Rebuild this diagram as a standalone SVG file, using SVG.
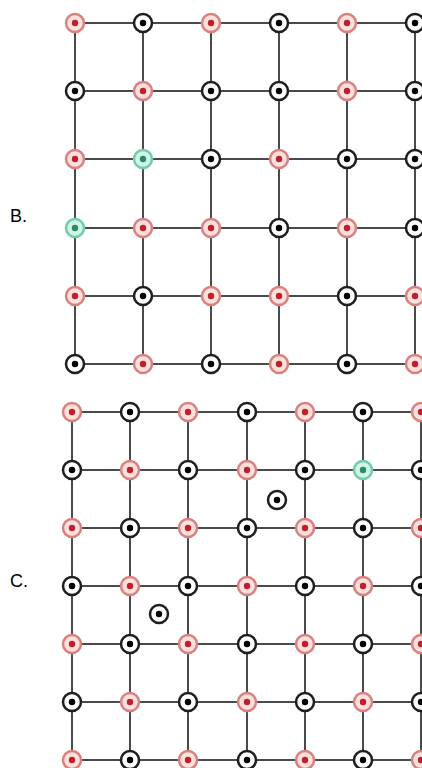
<svg xmlns="http://www.w3.org/2000/svg" width="422" height="768" viewBox="0 0 422 768">
<style>
.ln{stroke:#4a4a4a;stroke-width:2;fill:none}
.r circle.o{fill:#fbe0de;stroke:#d9817e;stroke-width:2.5}
.r circle.d{fill:#c0202a}
.k circle.o{fill:#fff;stroke:#1e1e1e;stroke-width:2.5}
.k circle.d{fill:#000}
.g circle.o{fill:#d2f4e6;stroke:#72cca8;stroke-width:2.5}
.g circle.d{fill:#2a8a66}
.lbl{font-family:"Liberation Sans",Arial,sans-serif;font-size:18px;fill:#000}
</style>
<defs>
<g id="R" class="r"><circle class="o" r="9"/><circle class="d" r="3.2"/></g>
<g id="K" class="k"><circle class="o" r="9"/><circle class="d" r="3.2"/></g>
<g id="G" class="g"><circle class="o" r="9"/><circle class="d" r="3.2"/></g>
</defs>
<rect width="422" height="768" fill="#fff"/>
<text class="lbl" x="10" y="222">B.</text>
<text class="lbl" x="10" y="587">C.</text>
<g id="connectors">
<path class="ln" d="M75 23H422M75 91H422M75 159H422M75 228H422M75 296H422M75 364H422M75 23V364M143 23V364M211 23V364M279 23V364M347 23V364M415 23V364"/>
<path class="ln" d="M72 412H422M72 470H422M72 528H422M72 586H422M72 644H422M72 702H422M72 760H422M72 412V768M130 412V768M188 412V768M247 412V768M305 412V768M363 412V768M421 412V768"/>
</g>
<g id="gridB">
<g id="B00"><use href="#R" x="75" y="23"/></g><g id="B01"><use href="#K" x="143" y="23"/></g><g id="B02"><use href="#R" x="211" y="23"/></g><g id="B03"><use href="#K" x="279" y="23"/></g><g id="B04"><use href="#R" x="347" y="23"/></g><g id="B05"><use href="#K" x="415" y="23"/></g>
<g id="B10"><use href="#K" x="75" y="91"/></g><g id="B11"><use href="#R" x="143" y="91"/></g><g id="B12"><use href="#K" x="211" y="91"/></g><g id="B13"><use href="#K" x="279" y="91"/></g><g id="B14"><use href="#R" x="347" y="91"/></g><g id="B15"><use href="#K" x="415" y="91"/></g>
<g id="B20"><use href="#R" x="75" y="159"/></g><g id="B21"><use href="#G" x="143" y="159"/></g><g id="B22"><use href="#K" x="211" y="159"/></g><g id="B23"><use href="#R" x="279" y="159"/></g><g id="B24"><use href="#K" x="347" y="159"/></g><g id="B25"><use href="#K" x="415" y="159"/></g>
<g id="B30"><use href="#G" x="75" y="228"/></g><g id="B31"><use href="#R" x="143" y="228"/></g><g id="B32"><use href="#R" x="211" y="228"/></g><g id="B33"><use href="#K" x="279" y="228"/></g><g id="B34"><use href="#R" x="347" y="228"/></g><g id="B35"><use href="#K" x="415" y="228"/></g>
<g id="B40"><use href="#R" x="75" y="296"/></g><g id="B41"><use href="#K" x="143" y="296"/></g><g id="B42"><use href="#R" x="211" y="296"/></g><g id="B43"><use href="#R" x="279" y="296"/></g><g id="B44"><use href="#K" x="347" y="296"/></g><g id="B45"><use href="#R" x="415" y="296"/></g>
<g id="B50"><use href="#K" x="75" y="364"/></g><g id="B51"><use href="#R" x="143" y="364"/></g><g id="B52"><use href="#K" x="211" y="364"/></g><g id="B53"><use href="#R" x="279" y="364"/></g><g id="B54"><use href="#K" x="347" y="364"/></g><g id="B55"><use href="#R" x="415" y="364"/></g>
</g>
<g id="gridC">
<g id="C00"><use href="#R" x="72" y="412"/></g><g id="C01"><use href="#K" x="130" y="412"/></g><g id="C02"><use href="#R" x="188" y="412"/></g><g id="C03"><use href="#K" x="247" y="412"/></g><g id="C04"><use href="#R" x="305" y="412"/></g><g id="C05"><use href="#K" x="363" y="412"/></g><g id="C06"><use href="#R" x="421" y="412"/></g>
<g id="C10"><use href="#K" x="72" y="470"/></g><g id="C11"><use href="#R" x="130" y="470"/></g><g id="C12"><use href="#K" x="188" y="470"/></g><g id="C13"><use href="#R" x="247" y="470"/></g><g id="C14"><use href="#K" x="305" y="470"/></g><g id="C15"><use href="#G" x="363" y="470"/></g><g id="C16"><use href="#K" x="421" y="470"/></g>
<g id="C20"><use href="#R" x="72" y="528"/></g><g id="C21"><use href="#K" x="130" y="528"/></g><g id="C22"><use href="#R" x="188" y="528"/></g><g id="C23"><use href="#K" x="247" y="528"/></g><g id="C24"><use href="#R" x="305" y="528"/></g><g id="C25"><use href="#K" x="363" y="528"/></g><g id="C26"><use href="#R" x="421" y="528"/></g>
<g id="C30"><use href="#K" x="72" y="586"/></g><g id="C31"><use href="#R" x="130" y="586"/></g><g id="C32"><use href="#K" x="188" y="586"/></g><g id="C33"><use href="#R" x="247" y="586"/></g><g id="C34"><use href="#K" x="305" y="586"/></g><g id="C35"><use href="#R" x="363" y="586"/></g><g id="C36"><use href="#K" x="421" y="586"/></g>
<g id="C40"><use href="#R" x="72" y="644"/></g><g id="C41"><use href="#K" x="130" y="644"/></g><g id="C42"><use href="#R" x="188" y="644"/></g><g id="C43"><use href="#K" x="247" y="644"/></g><g id="C44"><use href="#R" x="305" y="644"/></g><g id="C45"><use href="#K" x="363" y="644"/></g><g id="C46"><use href="#R" x="421" y="644"/></g>
<g id="C50"><use href="#K" x="72" y="702"/></g><g id="C51"><use href="#R" x="130" y="702"/></g><g id="C52"><use href="#K" x="188" y="702"/></g><g id="C53"><use href="#R" x="247" y="702"/></g><g id="C54"><use href="#K" x="305" y="702"/></g><g id="C55"><use href="#R" x="363" y="702"/></g><g id="C56"><use href="#K" x="421" y="702"/></g>
<g id="C60"><use href="#R" x="72" y="760"/></g><g id="C61"><use href="#K" x="130" y="760"/></g><g id="C62"><use href="#R" x="188" y="760"/></g><g id="C63"><use href="#K" x="247" y="760"/></g><g id="C64"><use href="#R" x="305" y="760"/></g><g id="C65"><use href="#K" x="363" y="760"/></g><g id="C66"><use href="#R" x="421" y="760"/></g>
<g id="Cx1"><use href="#K" x="277" y="500"/></g>
<g id="Cx2"><use href="#K" x="159" y="614"/></g>
</g>
</svg>
